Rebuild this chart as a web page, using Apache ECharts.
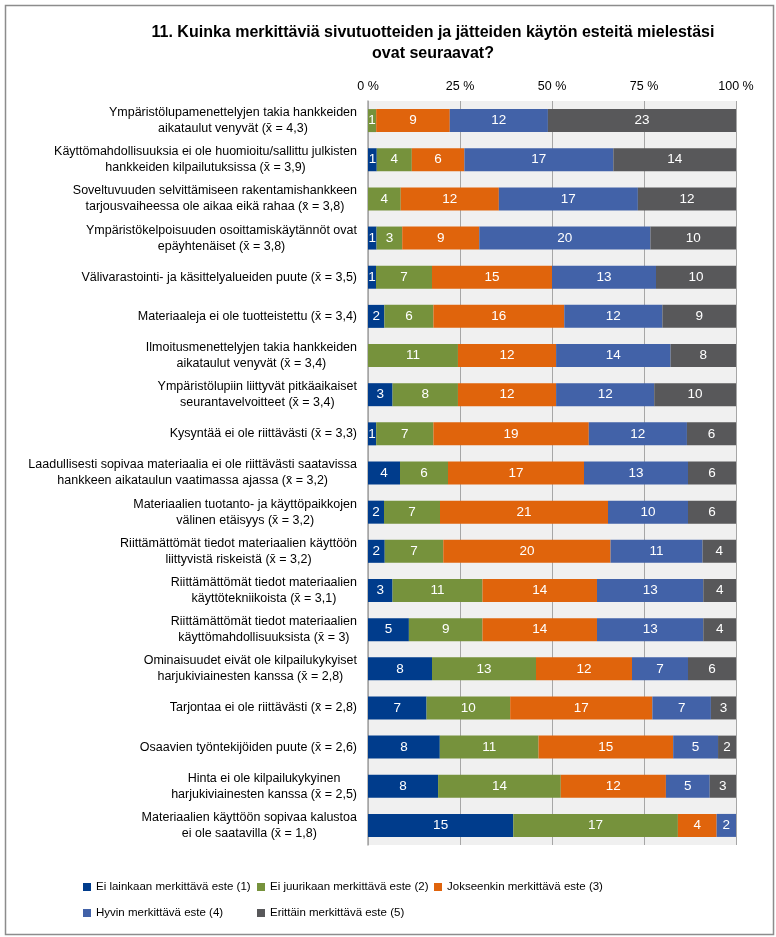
<!DOCTYPE html>
<html>
<head>
<meta charset="utf-8">
<script src="https://cdn.jsdelivr.net/npm/echarts@6/dist/echarts.min.js"></script>
<style>
  html, body { margin: 0; padding: 0; background: #fff; }
  #chart { width: 776px; height: 937px; }
</style>
</head>
<body>
<div id="chart"></div>
<script>
const categories = [
  'Ympäristölupamenettelyjen takia hankkeiden\naikataulut venyvät (x\u0304 = 4,3)',
  'Käyttömahdollisuuksia ei ole huomioitu/sallittu julkisten\nhankkeiden kilpailutuksissa (x\u0304 = 3,9)',
  'Soveltuvuuden selvittämiseen rakentamishankkeen\ntarjousvaiheessa ole aikaa eikä rahaa (x\u0304 = 3,8)',
  'Ympäristökelpoisuuden osoittamiskäytännöt ovat\nepäyhtenäiset (x\u0304 = 3,8)',
  'Välivarastointi- ja käsittelyalueiden puute (x\u0304 = 3,5)',
  'Materiaaleja ei ole tuotteistettu (x\u0304 = 3,4)',
  'Ilmoitusmenettelyjen takia hankkeiden\naikataulut venyvät (x\u0304 = 3,4)',
  'Ympäristölupiin liittyvät pitkäaikaiset\nseurantavelvoitteet (x\u0304 = 3,4)',
  'Kysyntää ei ole riittävästi (x\u0304 = 3,3)',
  'Laadullisesti sopivaa materiaalia ei ole riittävästi saatavissa\nhankkeen aikataulun vaatimassa ajassa (x\u0304 = 3,2)',
  'Materiaalien tuotanto- ja käyttöpaikkojen\nvälinen etäisyys (x\u0304 = 3,2)',
  'Riittämättömät tiedot materiaalien käyttöön\nliittyvistä riskeistä (x\u0304 = 3,2)',
  'Riittämättömät tiedot materiaalien\nkäyttötekniikoista (x\u0304 = 3,1)',
  'Riittämättömät tiedot materiaalien\nkäyttömahdollisuuksista (x\u0304 = 3)',
  'Ominaisuudet eivät ole kilpailukykyiset\nharjukiviainesten kanssa (x\u0304 = 2,8)',
  'Tarjontaa ei ole riittävästi (x\u0304 = 2,8)',
  'Osaavien työntekijöiden puute (x\u0304 = 2,6)',
  'Hinta ei ole kilpailukykyinen\nharjukiviainesten kanssa (x\u0304 = 2,5)',
  'Materiaalien käyttöön sopivaa kalustoa\nei ole saatavilla (x\u0304 = 1,8)'
];

const seriesNames = [
  'Ei lainkaan merkittävä este (1)',
  'Ei juurikaan merkittävä este (2)',
  'Jokseenkin merkittävä este (3)',
  'Hyvin merkittävä este (4)',
  'Erittäin merkittävä este (5)'
];

// vastausten lukumäärät
const eiLainkaan   = [0, 1, 0, 1, 1, 2, 0, 3, 1, 4, 2, 2, 3, 5, 8, 7, 8, 8, 15];
const eiJuurikaan  = [1, 4, 4, 3, 7, 6, 11, 8, 7, 6, 7, 7, 11, 9, 13, 10, 11, 14, 17];
const jokseenkin   = [9, 6, 12, 9, 15, 16, 12, 12, 19, 17, 21, 20, 14, 14, 12, 17, 15, 12, 4];
const hyvin        = [12, 17, 17, 20, 13, 12, 14, 12, 12, 13, 10, 11, 13, 13, 7, 7, 5, 5, 2];
const erittain     = [23, 14, 12, 10, 10, 9, 8, 10, 6, 6, 6, 4, 4, 4, 6, 3, 2, 3, 0];

const tickLabels = ['0 %', '25 %', '50 %', '75 %', '100 %'];
const colors = ['#003c8c', '#76923c', '#e0640c', '#4262a8', '#58585a'];

const counts = [eiLainkaan, eiJuurikaan, jokseenkin, hyvin, erittain];
const totals = categories.map((c, i) => counts.reduce((s, arr) => s + arr[i], 0));

const chart = echarts.init(document.getElementById('chart'));

const legendPos = [[83, 881], [257, 881], [434, 881], [83, 907], [257, 907]];

const option = {
  backgroundColor: '#fff',
  animation: false,
  textStyle: { fontFamily: 'Liberation Sans, Arial, sans-serif' },
  title: {
    text: '11. Kuinka merkittäviä sivutuotteiden ja jätteiden käytön esteitä mielestäsi\novat seuraavat?',
    left: 428,
    top: 17,
    textAlign: 'center',
    textStyle: { fontSize: 16, fontWeight: 'bold', color: '#000', lineHeight: 21 }
  },
  legend: seriesNames.map((n, i) => ({
    data: [n],
    left: legendPos[i][0],
    top: legendPos[i][1],
    icon: 'rect',
    itemWidth: 8,
    itemHeight: 8,
    itemGap: 0,
    padding: 0,
    selectedMode: false,
    textStyle: { fontSize: 11.5, color: '#000' }
  })),
  grid: {
    left: 368,
    right: 40,
    top: 101,
    bottom: 92,
    show: true,
    backgroundColor: '#f0f0f0',
    borderWidth: 0
  },
  xAxis: {
    type: 'value',
    position: 'top',
    min: 0,
    max: 100,
    interval: 25,
    axisLine: { show: false },
    axisTick: { show: false },
    axisLabel: {
      fontSize: 12.5,
      color: '#000',
      margin: 8,
      formatter: v => tickLabels[v / 25]
    },
    splitLine: { show: true, lineStyle: { color: '#a6a6a6', width: 1 } }
  },
  yAxis: {
    type: 'category',
    inverse: true,
    data: categories,
    axisLine: { show: true, lineStyle: { color: '#a6a6a6', width: 1.5 } },
    axisTick: { show: false },
    axisLabel: {
      margin: 11,
      color: '#000',
      fontSize: 12.5,
      lineHeight: 16,
      formatter: v => v.split('\n').map(l => '{c|' + l + '}').join('\n'),
      rich: { c: { align: 'center', fontSize: 12.5, lineHeight: 16, color: '#000' } }
    }
  },
  series: counts.map((arr, si) => ({
    name: seriesNames[si],
    type: 'bar',
    stack: 'total',
    barWidth: 23,
    itemStyle: { color: colors[si] },
    label: {
      show: true,
      position: 'inside',
      color: '#fff',
      fontSize: 13.5,
      formatter: p => (arr[p.dataIndex] > 0 ? String(arr[p.dataIndex]) : '')
    },
    data: arr.map((v, i) => v / totals[i] * 100)
  })),
  graphic: [{
    type: 'rect',
    left: 3,
    top: 3,
    shape: { width: 768, height: 929 },
    style: { fill: 'none', stroke: '#8c8c8c', lineWidth: 1.5 },
    silent: true
  }]
};

chart.setOption(option);
window.addEventListener('resize', function () {
  chart.resize();
});
</script>
</body>
</html>
